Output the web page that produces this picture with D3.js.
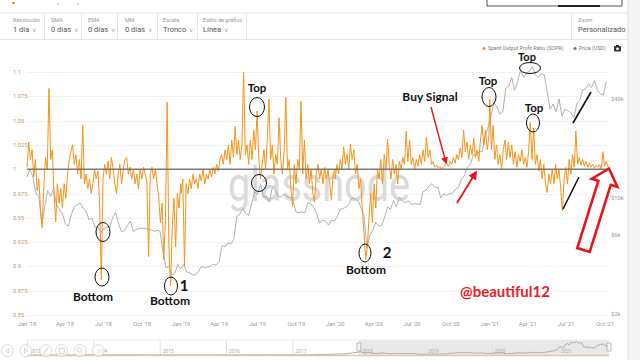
<!DOCTYPE html>
<html><head><meta charset="utf-8">
<script src="https://cdn.jsdelivr.net/npm/d3@7"></script>
<style>body{margin:0;background:#fff;} svg{display:block;font-family:Roboto,"Noto Sans",sans-serif;}</style>
</head><body><svg id="c" width="640" height="360"></svg>
<script>
// ---- SOPR, one value every 4 days from Jan 1 of each year ----
const sopr2018 = [1.002,1.028,1.010,1.020,0.992,1.010,0.978,0.990,0.960,0.940,
 0.985,1.012,1.000,1.083,1.010,1.020,0.975,0.946,0.985,0.965,
 0.980,0.960,0.985,0.970,0.995,1.010,1.018,1.025,1.005,1.015,
 0.995,1.010,0.990,1.045,0.985,0.995,0.980,0.990,0.975,0.985,
 1.000,0.990,0.998,0.965,0.886,0.990,1.005,0.995,1.008,0.990,
 1.012,1.000,0.985,0.975,0.995,1.005,0.985,1.000,1.010,1.012,
 0.995,1.002,0.990,1.000,0.985,0.995,0.980,1.000,0.990,1.002,
 0.995,0.985,0.910,0.995,1.002,0.990,1.000,0.985,0.970,0.945,
 0.965,0.907,0.950,1.069,0.920,0.880,0.940,0.970,0.920,0.975,
 0.960,0.985];
const sopr2019 = [0.975,0.990,0.900,0.985,0.975,0.990,0.980,0.995,0.985,0.990,
 0.980,0.995,0.988,1.000,0.985,0.995,0.990,1.000,0.992,1.002,
 0.995,1.005,0.998,1.010,1.015,1.005,1.020,1.010,1.025,1.005,
 1.030,1.012,1.044,1.015,1.030,1.010,1.025,1.100,1.015,1.025,
 1.005,1.030,1.010,1.040,1.020,1.060,1.010,0.990,1.005,1.020,
 1.000,1.030,1.072,1.010,1.025,0.995,1.015,1.005,1.053,1.010,
 0.995,1.020,1.074,1.000,1.010,0.980,0.962,1.005,0.985,1.010,
 1.000,1.070,0.995,1.030,0.990,1.005,0.985,1.000,0.975,0.966,
 0.995,1.005,0.990,1.000,0.985,1.002,0.990,1.000,0.985,0.968,
 0.995,1.000];
const sopr2020 = [0.990,1.005,0.995,1.010,1.000,1.023,1.005,1.015,1.000,1.026,
 1.010,1.020,0.995,1.005,0.980,0.990,0.960,0.935,0.907,0.920,
 0.950,0.975,0.945,0.985,0.960,1.000,0.990,1.010,0.985,1.015,
 1.000,1.031,1.005,0.990,1.010,0.995,1.005,0.985,1.008,1.000,
 1.012,1.005,1.039,1.008,1.030,1.005,1.012,1.000,1.010,1.003,
 1.015,1.005,1.020,1.008,1.033,1.012,1.020,1.005,1.008,1.002,
 1.004,1.001,1.003,1.000,1.002,1.004,1.006,1.003,1.008,1.005,
 1.012,1.006,1.015,1.010,1.022,1.012,1.040,1.018,1.028,1.010,
 1.025,1.015,1.032,1.012,1.020,1.008,1.030,1.045,1.025,1.040,
 1.020,1.035];
const sopr2021 = [1.072,1.020,1.045,1.010,1.025,1.005,1.015,1.000,1.020,1.030,
 1.010,1.028,1.012,1.025,1.005,1.018,1.002,1.015,1.008,1.020,
 1.005,1.012,1.002,1.018,1.048,1.010,1.042,1.005,1.015,0.998,
 1.010,0.990,1.005,0.985,0.976,0.995,0.985,1.000,0.985,1.005,
 0.990,1.000,0.980,0.957,0.990,1.002,0.985,1.010,0.995,1.015,
 1.002,1.039,1.005,1.012,1.004,1.010,1.003,1.008,1.002,1.006,
 1.002,1.005,1.001,1.004,1.002,1.005,1.000,1.018,1.003,1.008,
 1.002];
// ---- BTC price (USD), weekly from Mon Jan 1 2018 ----
const price2018 = [13500,15000,13500,10800,10200,7000,8900,11200,10300,11500,
 9100,8600,8100,7000,6800,8000,8900,9200,9400,8700,8400,7400,7600,6700,6700,6200,
 6600,6700,6700,7700,8200,7000,6300,6400,6900,7300,6300,6500,6600,6600,6600,6500,
 6450,6350,6400,6350,4800,3800,3900,3450,3500,4000,3750];
const price2019 = [4000,3600,3550,3450,3450,3600,3900,3800,3850,3900,4000,3950,4150,
 5200,5100,5400,5300,5700,7800,8000,8700,8100,7900,9300,11000,10600,12200,10200,10300,
 9500,11700,11300,10300,10200,10600,10300,10200,9700,8300,8200,8300,8200,9400,9300,
 8800,8100,7100,7400,7300,6900,7400,7300];
const price2020 = [7800,8600,8700,8900,9300,10100,9900,9700,8800,7900,5000,6000,6400,
 7200,6800,6900,7700,8900,8600,9700,8900,10200,9700,9400,9700,9200,9300,9250,9200,
 11000,11200,11900,12300,11700,11700,10100,10700,10400,10700,10800,11400,11700,13100,
 13700,15500,16000,18400,18200,19200,19200,23800,27000];
const price2021 = [31900,38000,35800,32300,33500,46500,48000,54000,45200,51000,60000,
 54000,57600,58800,63000,56000,53800,57000,56000,44000,34700,37300,33500,40000,31600,
 34700,34000,33000,30800,37300,39200,45500,46000,49500,47000,51800,44900,43000,42200,51000];
// ---- monthly BTC price for the navigator, 2013-2017 ----
const navPriceMonthly = [13,20,34,100,120,110,90,100,130,130,210,1000,
 800,900,600,450,450,650,640,580,480,390,340,380,
 310,220,250,240,235,225,260,280,230,240,320,370,
 430,370,440,420,450,540,670,620,570,610,700,750,
 1000,970,1190,1080,1420,2400,2500,2870,4700,4400,6450,10000];
// ---- ticks ----
const leftTicks = [0.85,0.875,0.9,0.925,0.95,0.975,1,1.025,1.05,1.075,1.1];
const rightTicks = [2000,6000,10000,40000];
const rightTickLabels = ["$2k","$6k","$10k","$40k"];
const xTicks = ["2018-01-01","2018-04-01","2018-07-01","2018-10-01","2019-01-01","2019-04-01",
 "2019-07-01","2019-10-01","2020-01-01","2020-04-01","2020-07-01","2020-10-01",
 "2021-01-01","2021-04-01","2021-07-01","2021-10-01"];
const navYears = [2013,2014,2015,2016,2017,2018,2019,2020,2021];
const controls = [["Resolución","1 día",13],["SMA","0 días",51],["EMA","0 días",88],
 ["MM","0 días",125],["Escala","Tronco",163],["Estilo de gráfico","Línea",203],["Zoom","Personalizado",578]];

// ---- build series ----
const DAY = 86400000;
const sopr = [];
[[2018,sopr2018],[2019,sopr2019],[2020,sopr2020],[2021,sopr2021]].forEach(([yr,arr])=>{
  arr.forEach((v,i)=>sopr.push({d:new Date(Date.UTC(yr,0,1)+i*4*DAY), v}));
});
const priceAll = price2018.concat(price2019,price2020,price2021);
const price = priceAll.map((v,i)=>({d:new Date(Date.UTC(2018,0,1)+i*7*DAY), v}));
const navPrice = navPriceMonthly.map((v,i)=>({d:new Date(Date.UTC(2013+Math.floor(i/12),i%12,1)), v})).concat(price);

const svg = d3.select("#c");
const x = d3.scaleUtc().domain([Date.UTC(2018,0,1), Date.UTC(2021,9,8)]).range([27,608]);
const yS = d3.scaleLinear().domain([0.85,1.1]).range([315,72]);
const yP = d3.scaleLog().domain([2000,40000]).range([314,99]);

// ---- header ----
svg.append("rect").attr("x",12).attr("y",2).attr("width",3).attr("height",2).attr("fill","#f7931a");
svg.append("circle").attr("cx",58).attr("cy",4).attr("r",0.7).attr("fill","#999");
svg.append("circle").attr("cx",78).attr("cy",4).attr("r",0.7).attr("fill","#999");
svg.append("path").attr("d","M487,0V6H622V0").attr("fill","none").attr("stroke","#555").attr("stroke-width",1);
svg.append("line").attr("x1",558).attr("x2",600).attr("y1",6).attr("y2",6).attr("stroke","#222").attr("stroke-width",2);
svg.append("line").attr("x1",0).attr("x2",628).attr("y1",13).attr("y2",13).attr("stroke","#e6e6e6");
svg.append("line").attr("x1",0).attr("x2",628).attr("y1",39.5).attr("y2",39.5).attr("stroke","#e6e6e6");
[44,81,117,157,197,246,571].forEach(sx=>svg.append("line").attr("x1",sx+0.5).attr("x2",sx+0.5).attr("y1",13).attr("y2",39).attr("stroke","#e6e6e6"));
controls.forEach(([lab,val,cx])=>{
  svg.append("text").attr("x",cx).attr("y",22).attr("font-size",5.5).attr("fill","#999").text(lab);
  const t = svg.append("text").attr("x",cx).attr("y",32).attr("font-size",7.5).attr("fill","#555").text(val);
  t.append("tspan").attr("dx",3).attr("font-size",5.5).attr("fill","#aaa").text("∨");
});
svg.append("rect").attr("x",628).attr("y",0).attr("width",12).attr("height",360).attr("fill","#f5f5f5");
svg.append("line").attr("x1",628).attr("x2",628).attr("y1",0).attr("y2",360).attr("stroke","#dcdcdc");

// ---- legend ----
svg.append("circle").attr("cx",484).attr("cy",48.5).attr("r",1.6).attr("fill","#f7931a");
svg.append("text").attr("x",488).attr("y",50.3).attr("font-size",5.2).attr("fill","#777").text("Spent Output Profit Ratio (SOPR)");
svg.append("circle").attr("cx",575).attr("cy",48.5).attr("r",1.6).attr("fill","#777");
svg.append("text").attr("x",579).attr("y",50.3).attr("font-size",5.2).attr("fill","#777").text("Price (USD)");
svg.append("rect").attr("x",614).attr("y",46).attr("width",7).attr("height",5.5).attr("rx",1).attr("fill","#333");
svg.append("rect").attr("x",616).attr("y",45).attr("width",3).attr("height",1.5).attr("fill","#333");
svg.append("circle").attr("cx",617.5).attr("cy",48.8).attr("r",1.4).attr("fill","#fff");

// ---- grid & axes ----
svg.append("g").selectAll("line").data(leftTicks).join("line")
  .attr("x1",27).attr("x2",608).attr("y1",d=>Math.round(yS(d))+0.5).attr("y2",d=>Math.round(yS(d))+0.5)
  .attr("stroke","#f1f1f1");
svg.append("g").selectAll("text").data(leftTicks).join("text")
  .attr("x",13).attr("y",d=>yS(d)+2).attr("font-size",5.8).attr("fill","#c9966b").text(d=>d3.format("")(d));
svg.append("g").selectAll("text").data(rightTicks).join("text")
  .attr("x",611).attr("y",d=>yP(d)+2).attr("font-size",5.8).attr("fill","#999").text((d,i)=>rightTickLabels[i]);
const fmt = d3.utcFormat("%b '%y");
svg.append("g").selectAll("text").data(xTicks).join("text")
  .attr("x",d=>x(new Date(d+"T00:00:00Z"))).attr("y",326).attr("text-anchor","middle")
  .attr("font-size",5.8).attr("fill","#999").text(d=>fmt(new Date(d+"T00:00:00Z")));

// watermark
svg.append("text").attr("x",228).attr("y",201).attr("font-size",48).attr("fill","#dadada")
  .attr("textLength",182).attr("lengthAdjust","spacingAndGlyphs").text("glassnode");

// ---- lines ----
svg.append("path").datum(price).attr("fill","none").attr("stroke","#a8a8a8").attr("stroke-width",0.9)
  .attr("d",d3.line().x(d=>x(d.d)).y(d=>yP(d.v)));
svg.append("path").datum(sopr).attr("fill","none").attr("stroke","#f7931a").attr("stroke-width",1)
  .attr("stroke-linejoin","round").attr("d",d3.line().x(d=>x(d.d)).y(d=>yS(d.v)));
svg.append("line").attr("x1",27).attr("x2",608).attr("y1",yS(1)).attr("y2",yS(1))
  .attr("stroke","#6e6e6e").attr("stroke-width",1.4).attr("opacity",0.9);

// ---- navigator ----
const xN = d3.scaleUtc().domain([Date.UTC(2013,0,1), Date.UTC(2021,9,8)]).range([27,609]);
const yN = d3.scaleLinear().domain([0,64000]).range([355,341]);
const x2018 = xN(new Date(Date.UTC(2018,0,1)));
svg.append("rect").attr("x",x2018).attr("y",340).attr("width",609-x2018).attr("height",15).attr("fill","#e9e9e9");
svg.append("g").selectAll("line").data(navYears).join("line")
  .attr("x1",d=>xN(new Date(Date.UTC(d,0,1)))+0.5).attr("x2",d=>xN(new Date(Date.UTC(d,0,1)))+0.5)
  .attr("y1",340).attr("y2",355).attr("stroke","#e2e2e2");
svg.append("g").selectAll("text").data(navYears).join("text")
  .attr("x",d=>xN(new Date(Date.UTC(d,0,1)))+3).attr("y",353).attr("font-size",4.8).attr("fill","#aaa").text(d=>d);
svg.append("line").attr("x1",27).attr("x2",609).attr("y1",340).attr("y2",340).attr("stroke","#eee");
svg.append("path").datum(navPrice).attr("fill","none").attr("stroke","#999").attr("stroke-width",0.8)
  .attr("d",d3.line().x(d=>xN(d.d)).y(d=>yN(d.v)));
svg.append("line").attr("x1",27).attr("x2",609).attr("y1",355.5).attr("y2",355.5).attr("stroke","#e3c8a6").attr("stroke-width",1.4);
[x2018,609].forEach(hx=>svg.append("rect").attr("x",hx-2).attr("y",343).attr("width",4).attr("height",8)
  .attr("fill","#f4f4f4").attr("stroke","#999").attr("stroke-width",0.6));
const btns = [7.3,26,45.7,61.7,80,98.3];
btns.forEach(bx=>svg.append("circle").attr("cx",bx).attr("cy",350.7).attr("r",6).attr("fill","rgba(255,255,255,0.6)").attr("stroke","#d0d0d0").attr("stroke-width",0.8));
svg.append("path").attr("d","M8.8,348.2L5.8,350.7L8.8,353.2Z").attr("fill","none").attr("stroke","#c4c4c4").attr("stroke-width",0.7);
svg.append("path").attr("d","M24.5,348.2L27.5,350.7L24.5,353.2Z").attr("fill","none").attr("stroke","#c4c4c4").attr("stroke-width",0.7);
svg.append("path").attr("d","M43.2,353.5L48.2,347.8").attr("stroke","#c4c4c4").attr("stroke-width",1);
svg.append("rect").attr("x",59.2).attr("y",348.2).attr("width",5).attr("height",5).attr("fill","none").attr("stroke","#c4c4c4").attr("stroke-width",0.7);
svg.append("circle").attr("cx",79.3).attr("cy",350).attr("r",2.2).attr("fill","none").attr("stroke","#c4c4c4").attr("stroke-width",0.7);
svg.append("path").attr("d","M80.8,351.5L82.6,353.3").attr("stroke","#c4c4c4").attr("stroke-width",0.8);

// ---- annotations ----
const A = svg.append("g").attr("font-family","Lato, 'Open Sans', sans-serif").attr("font-weight",700);
const ell = (cx,cy,rx,ry)=>A.append("ellipse").attr("cx",cx).attr("cy",cy).attr("rx",rx).attr("ry",ry)
  .attr("fill","none").attr("stroke","#111").attr("stroke-width",1);
const lab = (t,cx,cy,fs,col)=>A.append("text").attr("x",cx).attr("y",cy).attr("text-anchor","middle")
  .attr("font-size",fs).attr("fill",col||"#111").text(t);
lab("Top",257,92,11.5); ell(257,107,7.5,9.5); ell(259,183,7.5,8.5);
ell(103,232,7,9.5); ell(102,277,7,9); lab("Bottom",93,301,12);
ell(171,286,6.5,9); lab("1",184,291,15); lab("Bottom",170,305,12);
ell(365,253,6,9); lab("2",387,258,15); lab("Bottom",366,274,12);
lab("Buy Signal",430,101,12);
lab("Top",488,85,11.5); ell(489,97,7,9.5);
lab("Top",527,61,11); ell(530,68,10.5,5.5);
lab("Top",534,112,11.5); ell(533,123,6.5,9);
lab("@beautiful12",505,297,15,"#ec1c24");
// red arrows
const defs = svg.append("defs");
defs.append("marker").attr("id","ah").attr("viewBox","0 0 10 10").attr("refX",8).attr("refY",5)
  .attr("markerWidth",5).attr("markerHeight",5).attr("orient","auto")
  .append("path").attr("d","M0,0L10,5L0,10Z").attr("fill","#e8141c");
A.append("line").attr("x1",431).attr("y1",107).attr("x2",446).attr("y2",163)
  .attr("stroke","#e8141c").attr("stroke-width",1.4).attr("marker-end","url(#ah)");
A.append("line").attr("x1",457).attr("y1",203).attr("x2",476).attr("y2",172)
  .attr("stroke","#e8141c").attr("stroke-width",1.8).attr("marker-end","url(#ah)");
// black trend lines
A.append("line").attr("x1",573).attr("y1",123).attr("x2",591).attr("y2",92).attr("stroke","#111").attr("stroke-width",1.6);
A.append("line").attr("x1",563).attr("y1",209).attr("x2",579).attr("y2",177).attr("stroke","#111").attr("stroke-width",1.6);
// hollow arrow
(function(){
  const T=[583.5,250], P=[609,168.5];
  const dx=P[0]-T[0], dy=P[1]-T[1], L=Math.hypot(dx,dy), u=[dx/L,dy/L], n=[-u[1],u[0]];
  const hl=15, sw=6.5, hw=13.5;
  const B=[P[0]-u[0]*hl, P[1]-u[1]*hl];
  const pt=(o,k)=>[o[0]+n[0]*k, o[1]+n[1]*k];
  const pts=[pt(T,-sw),pt(B,-sw),pt(B,-hw),P,pt(B,hw),pt(B,sw),pt(T,sw)];
  A.append("polygon").attr("points",pts.map(p=>p.join(",")).join(" "))
    .attr("fill","none").attr("stroke","#e8141c").attr("stroke-width",2.6).attr("stroke-linejoin","miter");
})();
</script></body></html>
